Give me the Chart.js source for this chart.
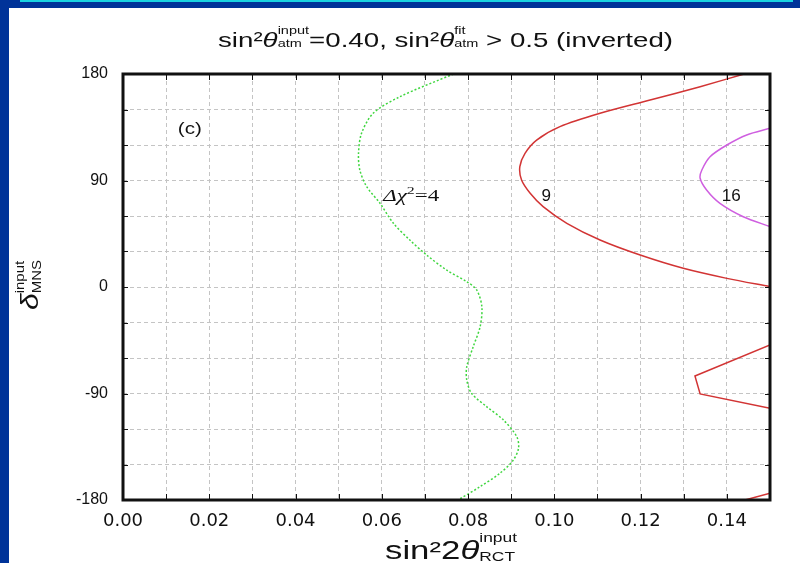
<!DOCTYPE html>
<html>
<head>
<meta charset="utf-8">
<script src="https://cdn.jsdelivr.net/npm/chart.js@4.4.1/dist/chart.umd.min.js"></script>
<style>
  html, body { margin: 0; padding: 0; background: #003399; }
  canvas { display: block; }
</style>
</head>
<body>
<canvas id="chart" width="800" height="563"></canvas>
<script>
// axis grids / labels
const xGrid = [0, 0.01, 0.02, 0.03, 0.04, 0.05, 0.06, 0.07, 0.08, 0.09, 0.10, 0.11, 0.12, 0.13, 0.14, 0.15];
const yGrid = [-180, -150, -120, -90, -60, -30, 0, 30, 60, 90, 120, 150, 180];
const xLabeled = [0, 0.02, 0.04, 0.06, 0.08, 0.10, 0.12, 0.14];
const yLabeled = [-180, -90, 0, 90, 180];

// delta chi^2 = 4 contour (green, dotted)
const chi4X = [0.0766, 0.0642, 0.0580, 0.0553, 0.0546, 0.0549, 0.0565, 0.0596, 0.0627, 0.0665, 0.0704, 0.0750, 0.0797, 0.0820, 0.0832, 0.0828, 0.0812, 0.0797, 0.0797, 0.0808, 0.0843, 0.0882, 0.0913, 0.0917, 0.0905, 0.0874, 0.0828, 0.0777];
const chi4Y = [180, 160.8, 146.8, 129.9, 113.0, 98.9, 84.8, 70.7, 53.8, 39.7, 27.0, 14.4, 4.5, -2.5, -16.6, -33.5, -50.4, -67.3, -78.6, -89.8, -101.1, -112.4, -126.5, -136.3, -146.2, -157.4, -168.7, -180];

// delta chi^2 = 9 contour (red), three pieces
const chi9aX = [0.1440, 0.1338, 0.1222, 0.1106, 0.1013, 0.0959, 0.0932, 0.0920, 0.0924, 0.0944, 0.0974, 0.1029, 0.1106, 0.1199, 0.1299, 0.1400, 0.1500];
const chi9aY = [180, 169.3, 158.0, 146.8, 135.5, 124.2, 113.0, 101.7, 90.4, 79.2, 67.9, 53.8, 39.7, 27.0, 15.8, 7.3, 0.3];
const chi9bX = [0.1500, 0.1326, 0.1338, 0.1500];
const chi9bY = [-49.0, -75.2, -90.4, -102.5];
const chi9cX = [0.1442, 0.1500];
const chi9cY = [-180, -174.3];

// delta chi^2 = 16 contour (magenta)
const chi16X = [0.1500, 0.1446, 0.1400, 0.1361, 0.1342, 0.1338, 0.1353, 0.1384, 0.1438, 0.1500];
const chi16Y = [134.1, 128.5, 120.0, 110.1, 98.9, 91.9, 82.0, 70.7, 59.4, 51.0];

// in-plot labels (data coords)
const noteText = ["(c)", "9", "16"];
const noteX = [0.0155, 0.0981, 0.1410];
const noteY = [134, 78, 78];

const SANS = '"Liberation Sans", Arial, sans-serif';
const WIDE = '"DejaVu Sans", sans-serif';
const SERIF = '"Liberation Serif", "DejaVu Serif", serif';

function pts(xs, ys) {
  return xs.map((x, i) => ({ x: x, y: ys[i] }));
}

function line(xs, ys, color, dash, tension) {
  return {
    data: pts(xs, ys),
    showLine: true,
    borderColor: color,
    borderWidth: 1.5,
    borderDash: dash,
    pointRadius: 0,
    tension: tension,
  };
}

// text made of pieces; a piece with sup/sub draws them stacked.
// optional width stretches the whole run horizontally (the source is wide)
function fontOf(p, size) {
  return (p.italic ? "italic " : "") + size + "px " + (p.family || SANS);
}
function pieceWidth(ctx, p) {
  if (p.sup !== undefined || p.sub !== undefined) {
    ctx.font = fontOf(p, p.small);
    return Math.max(ctx.measureText(p.sup || "").width, ctx.measureText(p.sub || "").width);
  }
  ctx.font = fontOf(p, p.size);
  return ctx.measureText(p.t).width;
}
function drawRich(ctx, x, y, parts, align, width) {
  const widths = parts.map((p) => pieceWidth(ctx, p));
  const total = widths.reduce((a, b) => a + b, 0);
  const s = width ? width / total : 1;
  ctx.save();
  ctx.translate(align === "center" ? x - (total * s) / 2 : x, y);
  ctx.scale(s, 1);
  ctx.textAlign = "left";
  ctx.textBaseline = "alphabetic";
  let cx = 0;
  parts.forEach((p, i) => {
    if (p.sup !== undefined || p.sub !== undefined) {
      ctx.font = fontOf(p, p.small);
      if (p.sup) ctx.fillText(p.sup, cx, p.supDy);
      if (p.sub) ctx.fillText(p.sub, cx, p.subDy);
    } else {
      ctx.font = fontOf(p, p.size);
      ctx.fillText(p.t, cx, p.dy || 0);
    }
    cx += widths[i];
  });
  ctx.restore();
}

const bgPlugin = {
  id: "bg",
  beforeDraw(chart) {
    const ctx = chart.ctx;
    ctx.save();
    ctx.fillStyle = "#003399";
    ctx.fillRect(0, 0, chart.width, chart.height);
    ctx.fillStyle = "#ffffff";
    ctx.fillRect(9, 8, chart.width - 9, chart.height - 8);
    ctx.fillStyle = "#19d3e0";
    ctx.fillRect(20, 0, 773, 2);
    ctx.restore();
  },
};

const framePlugin = {
  id: "frame",
  afterDatasetsDraw(chart) {
    const ctx = chart.ctx;
    const a = chart.chartArea;
    const xs = chart.scales.x, ys = chart.scales.y;
    ctx.save();
    ctx.strokeStyle = "#111";
    ctx.lineWidth = 1;
    ctx.beginPath();
    xGrid.forEach((v) => {
      const px = Math.round(xs.getPixelForValue(v)) + 0.5;
      ctx.moveTo(px, a.top); ctx.lineTo(px, a.top + 6);
      ctx.moveTo(px, a.bottom); ctx.lineTo(px, a.bottom - 6);
    });
    yGrid.forEach((v) => {
      const py = Math.round(ys.getPixelForValue(v)) + 0.5;
      ctx.moveTo(a.left, py); ctx.lineTo(a.left + 5, py);
      ctx.moveTo(a.right, py); ctx.lineTo(a.right - 5, py);
    });
    ctx.stroke();
    ctx.lineWidth = 3;
    ctx.strokeRect(a.left, a.top, a.right - a.left, a.bottom - a.top);

    // contour labels
    ctx.fillStyle = "#111";
    noteText.forEach((t, i) => {
      drawRich(ctx, xs.getPixelForValue(noteX[i]), ys.getPixelForValue(noteY[i]) + 6, [
        { t: t, size: 16 },
      ], "center", t === "(c)" ? 24 : t.length * 9.5);
    });
    drawRich(ctx, xs.getPixelForValue(0.0668), ys.getPixelForValue(78) + 6, [
      { t: "Δχ", size: 16, italic: true, family: SERIF },
      { t: "2", size: 11, family: SERIF, dy: -7 },
      { t: "=4", size: 16, family: SERIF },
    ], "center", 56);
    ctx.restore();
  },
  afterDraw(chart) {
    const ctx = chart.ctx;
    ctx.save();
    ctx.fillStyle = "#111";
    // title
    drawRich(ctx, 445.5, 47, [
      { t: "sin²", size: 21 },
      { t: "θ", size: 21, italic: true },
      { sup: "input", sub: "atm", small: 11, supDy: -13, subDy: 0 },
      { t: "=0.40, sin²", size: 21 },
      { t: "θ", size: 21, italic: true },
      { sup: "fit", sub: "atm", small: 11, supDy: -13, subDy: 0 },
      { t: " > 0.5 (inverted)", size: 21 },
    ], "center", 455);
    // x axis title
    drawRich(ctx, 451, 559, [
      { t: "sin²2", size: 26 },
      { t: "θ", size: 26, italic: true },
      { sup: "input", sub: "RCT", small: 13, supDy: -17, subDy: 2 },
    ], "center", 132);
    // y axis title (rotated)
    ctx.translate(38, 285);
    ctx.rotate(-Math.PI / 2);
    drawRich(ctx, 0, 0, [
      { t: "δ", size: 24, italic: true },
      { sup: "input", sub: "MNS", small: 12, supDy: -14, subDy: 3 },
    ], "center", 50);
    ctx.restore();
  },
};

const ctx = document.getElementById("chart").getContext("2d");
const chart = new Chart(ctx, {
  type: "scatter",
  data: {
    datasets: [
      line(chi4X, chi4Y, "#3fd63f", [2, 2], 0.3),
      line(chi9aX, chi9aY, "#d23434", [], 0.3),
      line(chi9bX, chi9bY, "#d23434", [], 0),
      line(chi9cX, chi9cY, "#d23434", [], 0),
      line(chi16X, chi16Y, "#cf5fe0", [], 0.3),
    ],
  },
  options: {
    responsive: false,
    animation: false,
    layout: { padding: { left: 0, top: 74, right: 30, bottom: 0 } },
    plugins: {
      legend: { display: false },
      tooltip: { enabled: false },
      title: { display: false },
    },
    scales: {
      x: {
        type: "linear",
        min: 0,
        max: 0.15,
        afterBuildTicks: (scale) => { scale.ticks = xGrid.map((v) => ({ value: v })); },
        afterFit: (scale) => { scale.height = 63; },
        ticks: {
          autoSkip: false,
          maxRotation: 0,
          padding: 11,
          color: "#111",
          font: { family: WIDE, size: 18 },
          callback: (v) => (xLabeled.some((l) => Math.abs(l - v) < 1e-6) ? v.toFixed(2) : ""),
        },
        grid: { color: "#c4c4c4", lineWidth: 1, drawTicks: false },
        border: { display: false, dash: [4, 3] },
      },
      y: {
        type: "linear",
        min: -180,
        max: 180,
        afterBuildTicks: (scale) => { scale.ticks = yGrid.map((v) => ({ value: v })); },
        afterFit: (scale) => { scale.width = 123; },
        ticks: {
          autoSkip: false,
          padding: 15,
          color: "#111",
          font: { family: SANS, size: 16 },
          callback: (v) => (yLabeled.includes(v) ? String(v) : ""),
        },
        grid: { color: "#c4c4c4", lineWidth: 1, drawTicks: false },
        border: { display: false, dash: [4, 3] },
      },
    },
  },
  plugins: [bgPlugin, framePlugin],
});
</script>
</body>
</html>
